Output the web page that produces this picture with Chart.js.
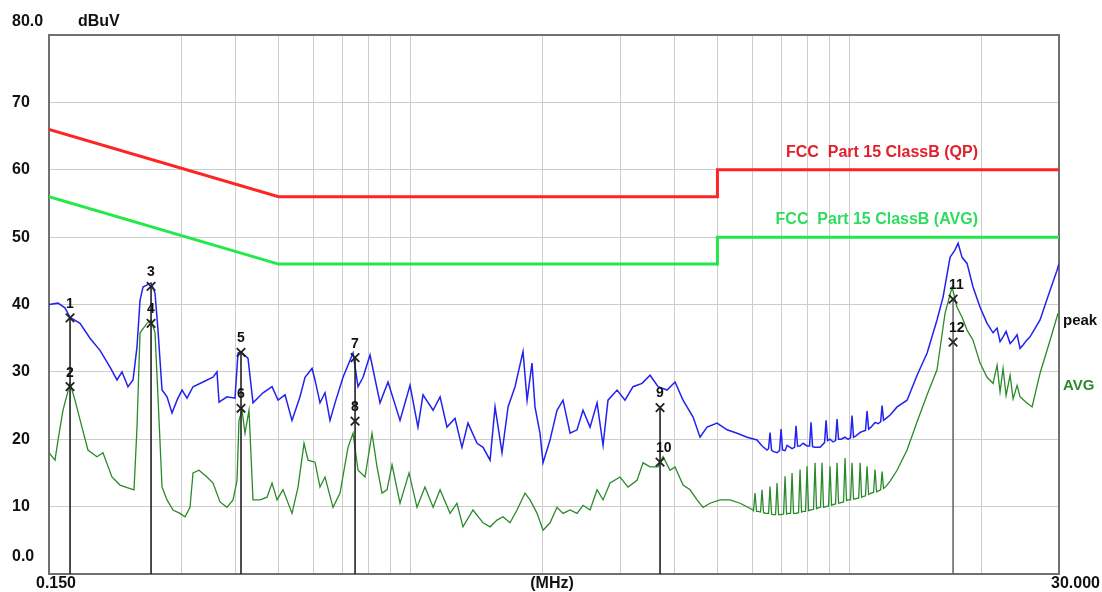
<!DOCTYPE html>
<html>
<head>
<meta charset="utf-8">
<title>Conducted emission 0.15-30 MHz</title>
<script src="https://cdn.jsdelivr.net/npm/chart.js@4.4.1/dist/chart.umd.min.js"></script>
<style>
  html, body { margin: 0; padding: 0; background: #fff; }
  canvas { display: block; }
</style>
</head>
<body>
<canvas id="emi-canvas" width="1102" height="592"></canvas>
<script>
// limit lines (MHz / dBuV)
const limitFreq = [0.15, 0.5, 5, 5, 30];
const qpLimit   = [66, 56, 56, 60, 60];
const avgLimit  = [56, 46, 46, 50, 50];

// peak trace
const peakFreq = [0.1500,0.1573,0.1631,0.1675,0.1765,0.1860,0.1960,0.2066,0.2143,0.2200,0.2270,0.2331,0.2380,0.2418,0.2456,0.2562,0.2616,0.2657,0.2714,0.2786,0.2860,0.2936,0.3014,0.3094,0.3193,0.3365,0.3546,0.3621,0.3660,0.3816,0.3980,0.4043,0.4107,0.4261,0.4374,0.4610,0.4833,0.4987,0.5174,0.5367,0.5597,0.5746,0.5961,0.6055,0.6216,0.6381,0.6551,0.6726,0.7014,0.7392,0.7588,0.7790,0.8081,0.8516,0.8881,0.9458,0.9968,1.039,1.067,1.125,1.167,1.210,1.262,1.309,1.351,1.417,1.462,1.517,1.557,1.615,1.667,1.729,1.803,1.842,1.890,1.920,1.971,2.003,2.078,2.155,2.224,2.308,2.394,2.470,2.563,2.659,2.744,2.816,2.953,3.079,3.211,3.367,3.511,3.662,3.838,4.003,4.174,4.400,4.564,4.735,4.990,5.258,5.542,5.841,
  6.155,6.318,6.486,6.537,6.589,6.641,6.694,6.836,6.925,6.981,7.036,7.129,7.205,7.395,7.493,7.552,7.612,7.712,7.835,8.001,8.106,8.170,8.235,8.343,8.565,8.770,8.839,8.909,9.026,9.170,9.291,9.364,9.438,9.563,9.765,9.921,10.05,10.13,10.21,10.34,10.57,10.73,10.87,10.96,11.05,11.19,11.43,11.61,11.77,11.86,11.95,12.17,
  12.37,12.83,13.52,14.25,15.02,15.82,16.33,16.94,17.39,17.67,18.04,18.52,19.11,19.83,20.57,21.23,21.68,22.02,22.37,22.73,23.21,23.58,24.08,24.46,24.85,25.24,25.77,27.16,28.63,29.70,30.00];
const peakLevel = [40.0,40.2,39.5,38.1,37.2,35.0,33.2,30.7,28.8,30.0,27.8,28.8,33.7,40.6,42.6,43.2,41.7,36.2,27.3,26.3,23.9,25.8,27.3,26.1,27.8,28.5,29.2,30.0,25.5,26.3,26.1,32.8,33.0,32.0,25.4,26.9,27.8,25.8,26.6,22.8,26.3,29.2,30.5,28.8,25.4,26.9,22.8,25.4,29.2,32.8,27.8,29.2,32.5,25.4,28.5,22.8,28.0,21.8,26.6,24.3,26.3,21.8,23.1,18.8,22.4,19.4,18.8,16.9,24.8,18.0,24.8,27.8,33.0,25.8,31.3,24.8,20.9,16.5,19.9,24.3,25.8,20.9,21.4,24.3,21.8,25.4,19.1,25.8,27.3,25.8,27.8,28.3,29.5,27.8,27.3,28.5,25.8,23.3,20.3,21.8,22.4,21.4,20.9,20.3,
  19.9,19.0,18.4,18.6,21.0,18.4,18.2,18.0,18.3,21.5,18.4,18.3,19.1,18.6,18.8,22.0,19.0,19.0,19.4,19.0,19.0,22.5,18.9,18.8,18.8,19.5,22.8,19.8,20.0,19.6,19.8,23.0,20.0,20.0,20.3,20.0,20.2,23.5,20.3,20.5,21.0,21.2,21.3,24.2,21.5,21.8,22.5,22.3,22.6,25.0,22.8,23.2,
  23.6,24.8,25.8,29.5,32.8,37.7,41.1,47.0,48.1,49.1,47.0,46.1,42.6,39.6,37.2,35.8,36.5,34.5,35.2,36.0,34.2,34.7,35.5,33.5,34.0,34.6,35.2,37.7,42.1,45.1,46.1];

// average trace
const avgFreq = [0.1500,0.1548,0.1573,0.1614,0.1675,0.1719,0.1783,0.1840,0.1929,0.1991,0.2087,0.2177,0.2270,0.2343,0.2380,0.2418,0.2508,0.2562,0.2616,0.2657,0.2714,0.2786,0.2875,0.2982,0.3062,0.3143,0.3193,0.3295,0.3436,0.3546,0.3679,0.3816,0.3939,0.4022,0.4064,0.4129,0.4194,0.4283,0.4374,0.4538,0.4708,0.4833,0.4961,0.5120,0.5367,0.5539,0.5716,0.5838,0.6055,0.6216,0.6381,0.6655,0.6904,0.7200,0.7392,0.7588,0.7871,0.8166,0.8383,0.8606,0.8834,0.9070,0.9458,0.9916,1.034,1.078,1.125,1.167,1.230,1.275,1.316,1.387,1.462,1.517,1.573,1.624,1.684,1.747,1.822,1.871,1.941,2.003,2.078,2.155,2.224,2.308,2.394,2.470,2.563,2.659,2.744,2.846,3.000,3.128,3.279,3.384,3.511,3.662,3.759,3.899,4.003,4.174,4.331,4.493,4.636,4.810,5.069,5.342,5.630,
  6.027,6.042,6.090,6.138,6.188,6.268,6.318,6.368,6.452,6.537,6.589,6.641,6.694,6.782,6.836,6.890,6.981,7.073,7.129,7.185,7.242,7.337,7.395,7.453,7.552,7.652,7.712,7.773,7.835,7.938,8.001,8.064,8.170,8.278,8.343,8.409,8.476,8.587,8.655,8.723,8.839,8.955,9.026,9.097,9.170,9.291,9.364,9.438,9.563,9.688,9.765,9.842,9.921,10.05,10.13,10.21,10.34,10.49,10.57,10.65,10.73,10.87,10.96,11.05,11.19,11.34,11.43,11.52,11.61,11.77,11.86,11.95,12.11,
  12.37,12.83,13.52,14.25,15.02,15.82,16.50,17.12,17.57,18.04,18.52,19.11,19.83,20.57,21.23,21.68,22.02,22.37,22.73,23.21,23.58,24.08,24.46,25.24,26.05,27.16,28.63,29.85];
const avgLevel = [18.0,16.9,19.9,24.3,28.3,25.8,21.8,18.4,17.4,18.0,14.4,13.2,12.8,12.5,21.8,35.8,37.2,37.7,35.8,26.3,12.9,11.0,9.5,9.0,8.5,9.9,15.0,15.4,14.4,13.5,10.7,9.9,11.0,13.9,22.8,24.3,20.9,24.3,11.0,11.0,11.4,13.5,11.0,12.5,9.0,12.9,19.4,16.9,16.6,12.9,14.4,9.9,12.0,18.8,20.9,15.4,14.4,20.9,15.9,12.0,12.5,16.2,10.5,15.0,9.9,12.9,9.9,12.5,9.0,10.5,7.0,9.5,7.6,7.0,8.0,8.5,7.6,9.5,12.0,11.0,9.0,6.5,7.6,9.9,9.0,9.5,9.0,10.2,9.5,12.5,11.0,13.5,14.4,12.9,13.9,16.5,15.9,15.9,17.4,15.4,15.9,13.2,12.5,11.0,9.9,10.5,11.0,11.0,10.5,
  9.5,9.4,12.0,9.3,9.3,9.2,12.5,9.1,9.0,9.0,13.0,8.9,8.8,8.8,13.5,8.8,8.8,8.9,14.5,8.9,9.0,9.0,15.0,9.0,9.0,9.1,15.5,9.2,9.3,9.3,16.0,9.4,9.5,9.6,16.5,9.7,9.8,9.9,16.5,9.9,10.0,10.1,16.0,10.2,10.3,10.4,16.5,10.5,10.6,10.7,17.2,10.9,11.0,11.0,16.5,11.1,11.2,11.3,16.5,11.4,11.5,11.6,16.0,11.8,12.0,12.1,15.5,12.2,12.3,12.5,15.2,12.7,13.0,
  13.8,15.4,18.4,22.6,26.6,30.3,38.7,42.6,39.6,38.1,36.2,34.7,31.3,29.2,28.3,31.0,27.0,30.5,26.5,29.5,26.0,28.0,26.3,25.5,24.8,29.8,34.7,38.7];

// marker table (1..12)
const markerNo    = ['1','2','3','4','5','6','7','8','9','10','11','12'];
const markerFreq  = [0.1675,0.1675,0.2562,0.2562,0.4107,0.4107,0.7471,0.7471,3.700,3.700,17.21,17.21];
const markerLevel = [38.0,27.8,42.7,37.2,32.9,24.6,32.1,22.7,24.7,16.6,40.8,34.4];

// axes
const xGrid = [0.3,0.4,0.5,0.6,0.7,0.8,0.9,1,2,3,4,5,6,7,8,9,10,20];
const yTickValues = [0,10,20,30,40,50,60,70,80];
const yTickLabels = ['0.0','10','20','30','40','50','60','70','80.0'];

const FONT = '"Liberation Sans", Arial, sans-serif';

function pairs(xs, ys){
  return xs.map((x, i) => ({x: x, y: ys[i]}));
}

function make_marker_lines(){
  // one dropline per frequency, from the upper marker down to 0
  const sets = [];
  for(let i = 0; i < markerFreq.length; i += 2){
    const top = Math.max(markerLevel[i], markerLevel[i+1]);
    sets.push({
      type: 'line',
      data: [{x: markerFreq[i], y: top}, {x: markerFreq[i], y: 0}],
      borderColor: i >= 10 ? '#6a6a6a' : '#222',
      borderWidth: 1.6,
      pointRadius: 0,
      fill: false
    });
  }
  return sets;
}

const overlay = {
  id: 'overlay',
  beforeDatasetsDraw(chart){
    const a = chart.chartArea;
    const ctx = chart.ctx;
    ctx.save();
    ctx.strokeStyle = '#707070';
    ctx.lineWidth = 2;
    ctx.strokeRect(a.left, a.top, a.right - a.left, a.bottom - a.top);
    ctx.restore();
  },
  afterDraw(chart){
    const ctx = chart.ctx;
    const xs = chart.scales.x, ys = chart.scales.y;
    const a = chart.chartArea;
    ctx.save();
    ctx.textBaseline = 'middle';
    ctx.fillStyle = '#111';

    // y labels: end ones are lifted off the frame
    ctx.font = 'bold 16px ' + FONT;
    ctx.textAlign = 'left';
    yTickValues.forEach(function(v, i){
      let py = ys.getPixelForValue(v);
      if(i == 0) py -= 17;
      if(i == yTickValues.length - 1) py -= 13;
      ctx.fillText(yTickLabels[i], 12, py);
    });
    ctx.fillText('dBuV', 78, ys.getPixelForValue(80) - 13);

    // x labels
    const by = a.bottom + 10;
    ctx.textAlign = 'center';
    ctx.fillText('0.150', xs.getPixelForValue(0.15) + 7, by);
    ctx.fillText('(MHz)', (a.left + a.right) / 2 - 2, by);
    ctx.textAlign = 'right';
    ctx.fillText('30.000', 1100, by);

    // limit captions
    ctx.textAlign = 'right';
    ctx.fillStyle = '#e0202c';
    ctx.fillText('FCC  Part 15 ClassB (QP)', 978, ys.getPixelForValue(60) - 17);
    ctx.fillStyle = '#2fdc62';
    ctx.fillText('FCC  Part 15 ClassB (AVG)', 978, ys.getPixelForValue(50) - 18);

    // trace captions
    ctx.textAlign = 'left';
    ctx.font = 'bold 15px ' + FONT;
    ctx.fillStyle = '#111';
    ctx.fillText('peak', a.right + 4, ys.getPixelForValue(37.5));
    ctx.fillStyle = '#2a8a2a';
    ctx.fillText('AVG', a.right + 4, ys.getPixelForValue(27.9));

    // marker numbers
    ctx.font = 'bold 14px ' + FONT;
    ctx.fillStyle = '#111';
    markerNo.forEach(function(t, i){
      const px = xs.getPixelForValue(markerFreq[i]);
      const py = ys.getPixelForValue(markerLevel[i]);
      ctx.fillText(t, px - 4, py - 14);
    });
    ctx.restore();
  }
};

const datasets = [{
  label: 'markers',
  data: pairs(markerFreq, markerLevel),
  showLine: false,
  pointStyle: 'crossRot',
  pointRadius: 6,
  borderColor: '#222',
  borderWidth: 1.8
}].concat(make_marker_lines()).concat([{
  label: 'peak',
  data: pairs(peakFreq, peakLevel),
  showLine: true,
  borderColor: '#2222f0',
  borderWidth: 1.5,
  pointRadius: 0,
  tension: 0
},{
  label: 'AVG',
  data: pairs(avgFreq, avgLevel),
  showLine: true,
  borderColor: '#2a8a2a',
  borderWidth: 1.3,
  pointRadius: 0,
  tension: 0
},{
  label: 'FCC Part 15 ClassB (QP)',
  data: pairs(limitFreq, qpLimit),
  showLine: true,
  borderColor: '#ff2424',
  borderWidth: 3,
  pointRadius: 0
},{
  label: 'FCC Part 15 ClassB (AVG)',
  data: pairs(limitFreq, avgLimit),
  showLine: true,
  borderColor: '#22e848',
  borderWidth: 3,
  pointRadius: 0
}]);

const myChart = new Chart(document.getElementById('emi-canvas'), {
  type: 'scatter',
  data: { datasets: datasets },
  plugins: [overlay],
  options: {
    responsive: false,
    animation: false,
    events: [],
    layout: { padding: { left: 49, right: 43, top: 35, bottom: 18 } },
    plugins: { legend: { display: false }, tooltip: { enabled: false } },
    scales: {
      x: {
        type: 'logarithmic',
        min: 0.15,
        max: 30,
        afterBuildTicks: function(scale){
          scale.ticks = xGrid.map(v => ({value: v}));
        },
        ticks: { display: false },
        border: { display: false },
        grid: { color: '#cdcdcd', lineWidth: 1, drawTicks: false }
      },
      y: {
        min: 0,
        max: 80,
        ticks: { display: false, stepSize: 10 },
        border: { display: false },
        grid: { color: '#cdcdcd', lineWidth: 1, drawTicks: false }
      }
    }
  }
});
</script>
</body>
</html>
